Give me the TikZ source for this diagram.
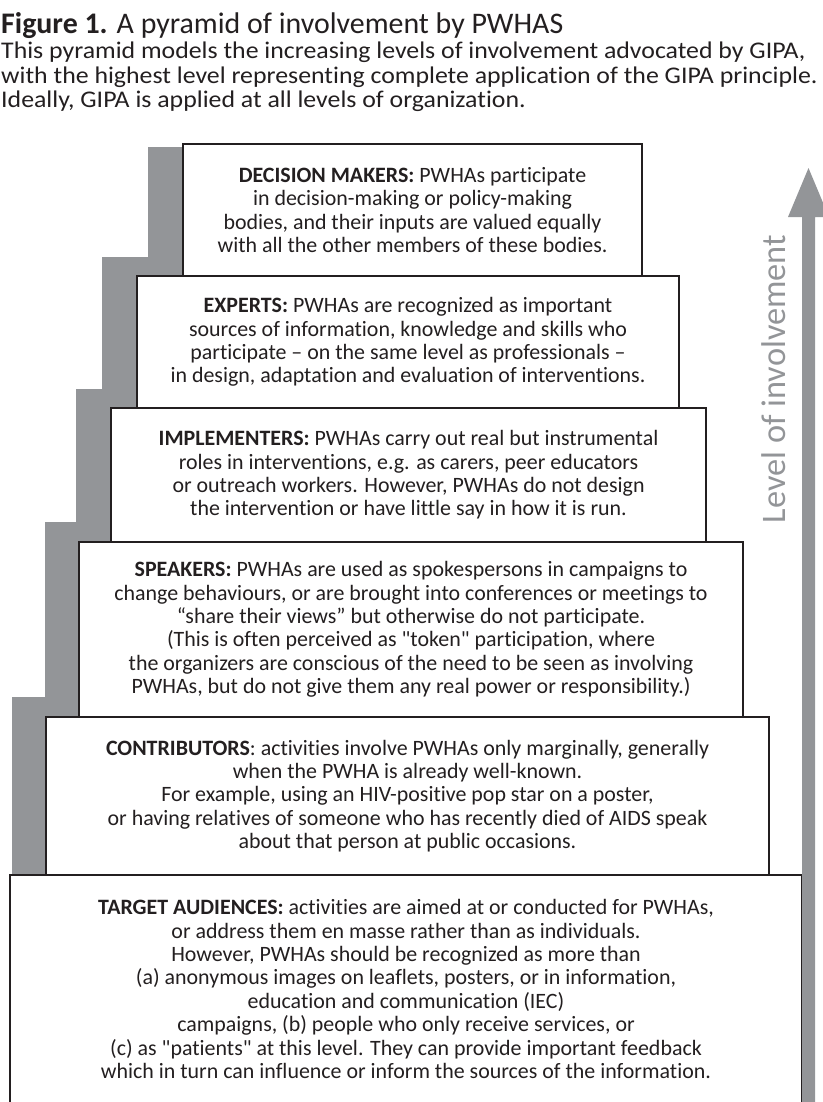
\documentclass[tikz,border=0pt]{standalone}
\usepackage{fontspec}
\usepackage{xcolor}
\setmainfont{Carlito}[Ligatures={TeXOff,CommonOff}]
\newfontfamily\capfont{Carlito}[Ligatures={TeXOff,CommonOff},FakeStretch=1.08]
\definecolor{inkblack}{HTML}{231F20}
\definecolor{stepgrey}{HTML}{939598}
\tikzstyle{tier-box} = [draw=inkblack, fill=white, line width=2.5bp, rectangle,
    anchor=north west, inner sep=0pt, outer sep=0pt, align=center,
    text=inkblack, font=\fontsize{22}{23.5}\selectfont]
\tikzstyle{fig-title} = [anchor=base west, inner sep=0pt, text=inkblack,
    font=\fontsize{30}{30}\selectfont]
\tikzstyle{fig-caption} = [anchor=north west, inner sep=0pt, align=left,
    text=inkblack, font=\capfont\fontsize{24}{24.5}\selectfont]
\newcommand{\tier}[1]{\textbf{#1:}}

\begin{document}
\begin{tikzpicture}[x=1bp,y=-1bp]
\useasboundingbox (0,0) rectangle (823,1102);
\node[fig-title] (title) at (1,33) {\textbf{Figure 1.} A pyramid of involvement by PWHAS};
\node[fig-caption] (caption) at (1,42) {This pyramid models the increasing levels of involvement advocated by GIPA,\\
    with the highest level representing complete application of the GIPA principle.\\
    Ideally, GIPA is applied at all levels of organization.};
% grey steps behind the boxes
\fill[stepgrey] (148,147) -- (300,147) -- (300,1100) -- (12,1100) -- (12,697) -- (45,697)
    -- (45,522) -- (76,522) -- (76,389) -- (102,389) -- (102,257) -- (148,257) -- cycle;
\node[tier-box, minimum width=792bp, minimum height=228bp] (target) at (10,875) {%
    \tier{TARGET AUDIENCES} activities are aimed at or conducted for PWHAs,\\
    or address them en masse rather than as individuals.\\
    However, PWHAs should be recognized as more than\\
    (a) anonymous images on leaflets, posters, or in information,\\
    education and communication (IEC)\\
    campaigns, (b) people who only receive services, or\\
    (c) as "patients" at this level. They can provide important feedback\\
    which in turn can influence or inform the sources of the information.};
\node[tier-box, minimum width=723bp, minimum height=158bp] (contrib) at (46,717) {%
    \textbf{CONTRIBUTORS}: activities involve PWHAs only marginally, generally\\
    when the PWHA is already well-known.\\
    For example, using an HIV-positive pop star on a poster,\\
    or having relatives of someone who has recently died of AIDS speak\\
    about that person at public occasions.};
\node[tier-box, minimum width=664bp, minimum height=175bp] (speakers) at (79,542) {%
    \tier{SPEAKERS} PWHAs are used as spokespersons in campaigns to\\
    change behaviours, or are brought into conferences or meetings to\\
    “share their views” but otherwise do not participate.\\
    (This is often perceived as "token" participation, where\\
    the organizers are conscious of the need to be seen as involving\\
    PWHAs, but do not give them any real power or responsibility.)};
\node[tier-box, minimum width=595bp, minimum height=134bp] (implement) at (111,408) {%
    \tier{IMPLEMENTERS} PWHAs carry out real but instrumental\\
    roles in interventions, e.g. as carers, peer educators\\
    or outreach workers. However, PWHAs do not design\\
    the intervention or have little say in how it is run.};
\node[tier-box, minimum width=542bp, minimum height=132bp] (experts) at (137,276) {%
    \tier{EXPERTS} PWHAs are recognized as important\\
    sources of information, knowledge and skills who\\
    participate – on the same level as professionals –\\
    in design, adaptation and evaluation of interventions.};
\node[tier-box, minimum width=459bp, minimum height=132bp] (decision) at (183,144) {%
    \tier{DECISION MAKERS} PWHAs participate\\
    in decision-making or policy-making\\
    bodies, and their inputs are valued equally\\
    with all the other members of these bodies.};
% level arrow
\fill[stepgrey] (802,1103) -- (802,217) -- (788,217) -- (808.5,168) -- (829,217)
    -- (815,217) -- (815,1103) -- cycle;
\node[rotate=90, anchor=base, inner sep=0pt, text=stepgrey,
    font=\fontsize{34.5}{34.5}\selectfont] (level) at (785,379) {Level of involvement};
\end{tikzpicture}
\end{document}
